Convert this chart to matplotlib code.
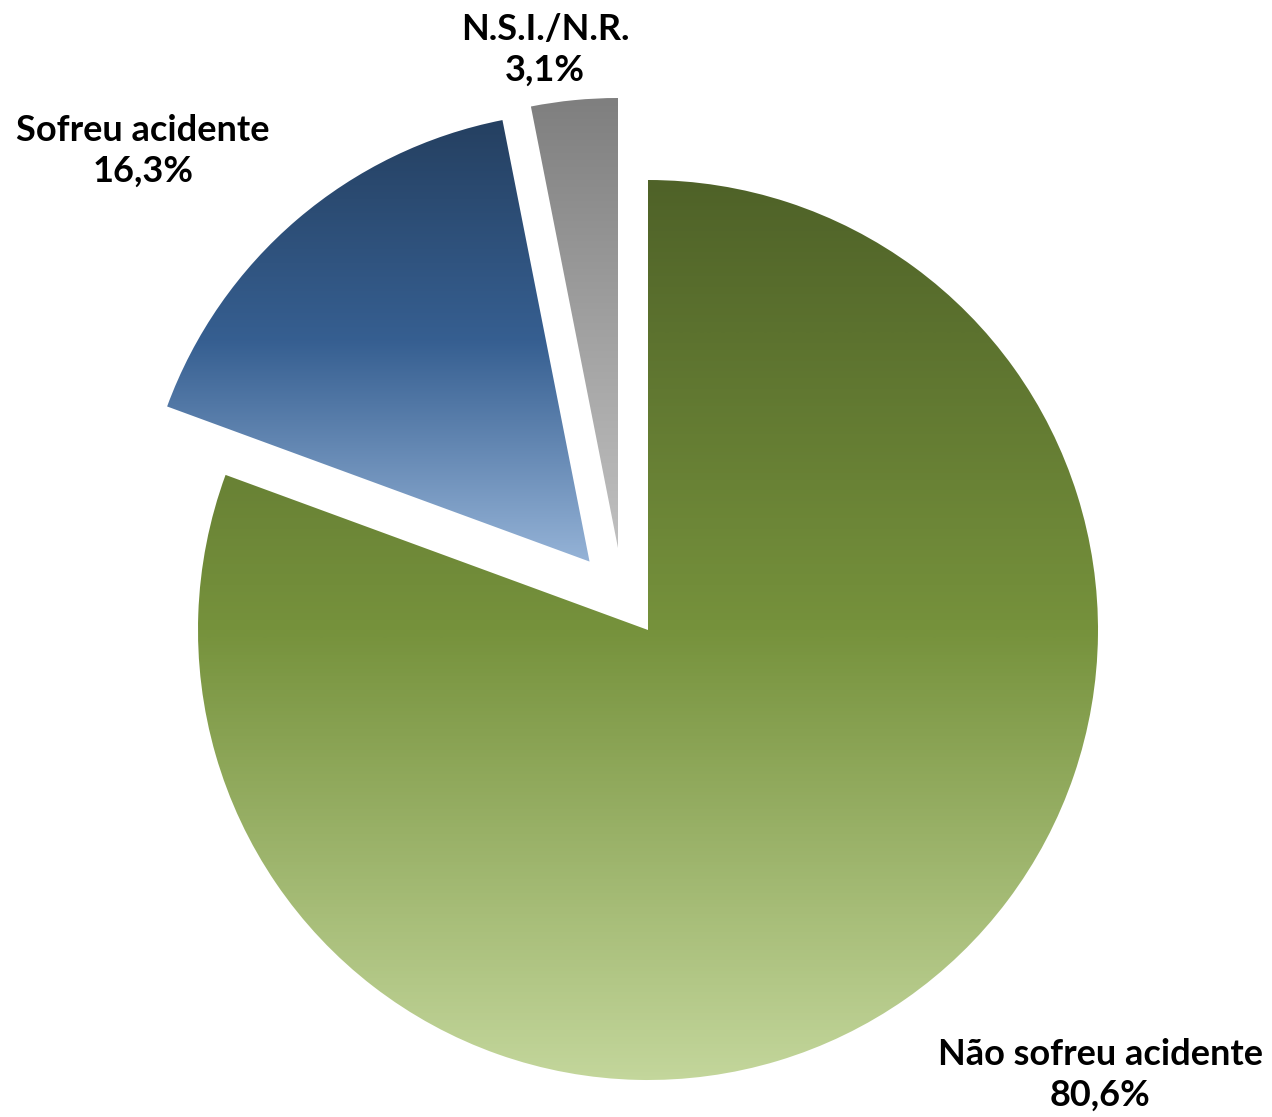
import numpy as np
import matplotlib.pyplot as plt
from matplotlib.colors import LinearSegmentedColormap

plt.rcParams['font.family'] = ['Lato', 'DejaVu Sans']

# dados
labels = ['Não sofreu acidente', 'Sofreu acidente', 'N.S.I./N.R.']
values = [80.6, 16.3, 3.1]
value_text = ['80,6%', '16,3%', '3,1%']

# gradientes (topo -> meio -> base)
gradients = [
    ['#4F6228', '#76923C', '#C3D69B'],
    ['#254061', '#365F91', '#95B3D7'],
    ['#7F7F7F', '#A0A0A0', '#C0C0C0'],
]

fig = plt.figure(figsize=(12.72, 11.17), dpi=100)
ax = fig.add_axes([0, 0, 1, 1])

# centro do gráfico em (648, 630) px, raio 450 px
R = 450.0
W, H = 1272, 1117
cx, cy = 648, 630
xlim = (-cx / R, (W - cx) / R)
ylim = (-(H - cy) / R, cy / R)

wedges, _ = ax.pie(values, startangle=90, counterclock=False,
                   explode=[0, 0.2, 0.2], radius=1,
                   wedgeprops=dict(linewidth=0))

# a fatia cinza está deslocada mais para a esquerda no original
wedges[2].set_center((-30 / R, 82 / R))

for w, stops in zip(wedges, gradients):
    w.set_facecolor('none')
    w.set_edgecolor('none')
    verts = w.get_path().vertices
    x0, x1 = verts[:, 0].min(), verts[:, 0].max()
    y0, y1 = verts[:, 1].min(), verts[:, 1].max()
    cmap = LinearSegmentedColormap.from_list('g', stops)
    grad = np.linspace(0, 1, 256).reshape(-1, 1)
    # linha 0 (escura) no topo
    im = ax.imshow(grad, cmap=cmap, extent=(x0, x1, y0, y1), aspect='auto',
                   interpolation='bilinear', zorder=1)
    im.set_clip_path(w)

ax.set_xlim(*xlim)
ax.set_ylim(*ylim)
ax.set_aspect('auto')
ax.axis('off')

# rótulos
label_pos = [(1100, 1075), (143, 151), (545, 50)]
for lab, txt, (px, py) in zip(labels, value_text, label_pos):
    ax.text((px - cx) / R, (cy - py) / R, lab + '\n' + txt,
            ha='center', va='center', fontsize=26, fontweight='bold',
            color='black', linespacing=1.3)

fig.savefig('out.png', dpi=100, facecolor='white')
